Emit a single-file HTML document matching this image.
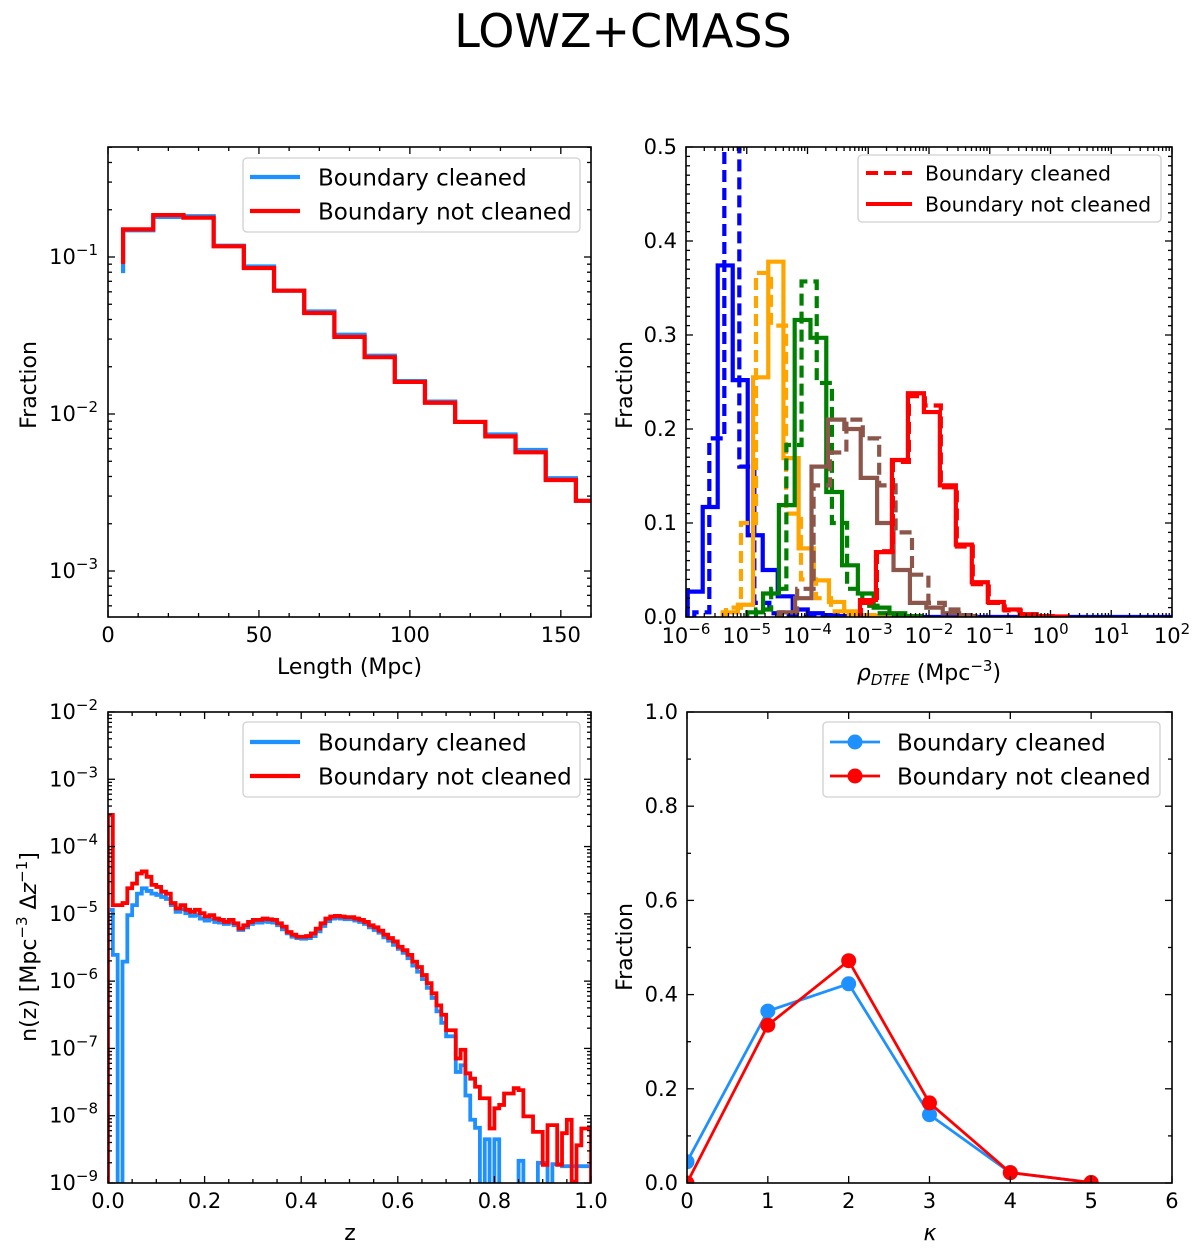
<!DOCTYPE html>
<html><head><meta charset="utf-8"><style>
html,body{margin:0;padding:0;background:#fff;}
svg{display:block;font-family:"DejaVu Sans","Liberation Sans",sans-serif;}
</style></head><body>
<svg id="chart" width="1200" height="1248" viewBox="0 0 1200 1248" xmlns="http://www.w3.org/2000/svg">
<rect width="1200" height="1248" fill="#fff"/>
<text x="623" y="47" font-size="46" text-anchor="middle">LOWZ+CMASS</text>
</svg>
<script>
// ---------- Panel 1: length histogram ----------
const lengthLeftEdges = [5,15,25,35,45,55,65,75,85,95,105,115,125,135,145,155];
const lengthBinWidth = 10;
const lengthBlue = [0.148,0.18,0.182,0.118,0.087,0.061,0.045,0.032,0.0235,0.0162,0.012,0.0089,0.0074,0.0059,0.0039,0.0028];
const lengthRed  = [0.15,0.185,0.178,0.117,0.085,0.061,0.044,0.031,0.023,0.016,0.0118,0.0089,0.0072,0.0057,0.0038,0.0028];
const lengthStartBlue = 0.079;
const lengthStartRed = 0.09;
const logTickLabelsP1 = ["-1","-2","-3"];

// ---------- Panel 2: density histograms ----------
const rhoSeriesNames = ["blue-cleaned","blue-not-cleaned","orange-cleaned","orange-not-cleaned","green-cleaned","green-not-cleaned","brown-cleaned","brown-not-cleaned","red-cleaned","red-not-cleaned"];
const rhoColors = ["blue","blue","orange","orange","green","green","#8c564b","#8c564b","red","red"];
const rhoDashed = [true,false,true,false,true,false,true,false,true,false];
const rhoLo = [-5.863,-5.972,-5.342,-5.396,-4.848,-4.991,-4.44,-4.474,-3.12,-3.136];
const rhoBw = [0.247,0.247,0.247,0.25,0.25,0.26,0.27,0.27,0.263,0.263];
const rhoBlueDashed = [0.005,0.19,0.62,0.16,0.015,0.004,0.001,0];
const rhoBlueSolid = [0.027,0.117,0.374,0.252,0.087,0.05,0.022,0.008,0.004,0.002,0.001,0.0005,0,0,0,0,0,0,0,0,0,0,0,0,0,0,0,0,0,0,0,0,0];
const rhoOrangeDashed = [0.01,0.1,0.366,0.31,0.11,0.04,0.02,0.006,0.002,0.001];
const rhoOrangeSolid = [0.005,0.013,0.255,0.378,0.169,0.073,0.039,0.016,0.006,0.002,0.001];
const rhoGreenDashed = [0.008,0.03,0.183,0.357,0.249,0.1,0.03,0.012,0.004,0.001];
const rhoGreenSolid = [0.005,0.025,0.119,0.316,0.297,0.133,0.055,0.025,0.01,0.004,0.001];
const rhoBrownDashed = [0.005,0.03,0.14,0.175,0.21,0.19,0.14,0.09,0.045,0.015,0.008,0.002];
const rhoBrownSolid = [0.005,0.02,0.16,0.21,0.2,0.148,0.1,0.05,0.015,0.01,0.004,0.001];
const rhoRedDashed = [0.015,0.07,0.165,0.235,0.225,0.138,0.075,0.035,0.015,0.007,0.003,0.001];
const rhoRedSolid = [0.018,0.069,0.167,0.238,0.218,0.14,0.077,0.037,0.016,0.008,0.003,0.001,0.0005];
const rhoValues = [rhoBlueDashed,rhoBlueSolid,rhoOrangeDashed,rhoOrangeSolid,rhoGreenDashed,rhoGreenSolid,rhoBrownDashed,rhoBrownSolid,rhoRedDashed,rhoRedSolid];
const rhoTickExps = ["-6","-5","-4","-3","-2","-1","0","1","2"];
const fracTicks = [0,0.1,0.2,0.3,0.4,0.5];

// ---------- Panel 3: n(z) (log10 values, bins of 0.01) ----------
const zBinWidth = 0.01;
const nzRedLog = [-3.53,-4.87,-4.87,-4.84,-4.62,-4.55,-4.40,-4.37,-4.45,-4.57,-4.60,-4.67,-4.70,-4.84,-4.92,-4.87,-4.94,-4.97,-4.94,-4.99,-5.04,-5.02,-5.07,-5.09,-5.12,-5.09,-5.14,-5.22,-5.17,-5.12,-5.09,-5.09,-5.07,-5.08,-5.09,-5.14,-5.19,-5.27,-5.31,-5.34,-5.34,-5.33,-5.29,-5.22,-5.14,-5.07,-5.04,-5.03,-5.04,-5.05,-5.05,-5.07,-5.09,-5.12,-5.17,-5.20,-5.25,-5.31,-5.36,-5.41,-5.49,-5.54,-5.61,-5.71,-5.79,-5.91,-6.03,-6.18,-6.36,-6.50,-6.73,-6.73,-7.15,-7.02,-7.37,-7.45,-7.57,-7.74,-7.74,-8.19,-7.89,-7.84,-7.67,-7.67,-7.59,-7.62,-8.01,-8.01,-8.24,-8.24,-8.73,-8.14,-8.14,-8.73,-8.26,-8.06,-8.98,-8.44,-8.19,-8.19];
const nzBlueLog = [-4.94,-5.61,-10,-5.71,-5.02,-4.87,-4.70,-4.62,-4.66,-4.70,-4.72,-4.75,-4.78,-4.87,-4.97,-4.93,-4.99,-5.03,-5.02,-5.07,-5.10,-5.08,-5.12,-5.13,-5.15,-5.13,-5.17,-5.24,-5.20,-5.15,-5.13,-5.13,-5.11,-5.12,-5.13,-5.17,-5.23,-5.29,-5.34,-5.36,-5.37,-5.36,-5.33,-5.26,-5.18,-5.11,-5.07,-5.06,-5.07,-5.08,-5.08,-5.10,-5.12,-5.15,-5.20,-5.24,-5.28,-5.35,-5.40,-5.46,-5.52,-5.58,-5.66,-5.77,-5.86,-5.97,-6.10,-6.25,-6.45,-6.62,-6.82,-6.82,-7.35,-7.25,-7.70,-8.06,-8.18,-10,-8.35,-10,-8.35,-10,-10,-10,-10,-8.67,-10,-10,-10,-8.70,-8.70,-10,-8.72,-8.72,-8.75,-8.75,-8.75,-8.75,-8.75,-8.75];
const nzTickExps = ["-2","-3","-4","-5","-6","-7","-8","-9"];
const zTicks = [0,0.2,0.4,0.6,0.8,1.0];

// ---------- Panel 4: kappa ----------
const kappaCats = [0,1,2,3,4,5];
const kappaBlue = [0.045,0.365,0.423,0.145,0.022,0.001];
const kappaRed = [0.0,0.335,0.472,0.17,0.022,0.001];
const kappaYTicks = [0,0.2,0.4,0.6,0.8,1.0];

// ---------- helpers ----------
const NS = "http://www.w3.org/2000/svg";
const svg = document.getElementById('chart');
const TF = 21;
function mk(tag, parent){ const e=document.createElementNS(NS,tag); (parent||svg).appendChild(e); return e; }
function line(p,x1,y1,x2,y2,col,w){ const e=mk('line',p); e.setAttribute('x1',x1);e.setAttribute('y1',y1);e.setAttribute('x2',x2);e.setAttribute('y2',y2);e.setAttribute('stroke',col||'#000');e.setAttribute('stroke-width',w||1.3); return e; }
function txt(p,x,y,s,anchor,size){ const e=mk('text',p); e.setAttribute('x',x);e.setAttribute('y',y);e.setAttribute('font-size',size||TF);e.setAttribute('text-anchor',anchor||'middle'); e.textContent=s; return e; }
function powTxt(p,x,y,exp,anchor){ const e=mk('text',p); e.setAttribute('x',x);e.setAttribute('y',y);e.setAttribute('font-size',TF);e.setAttribute('text-anchor',anchor||'middle');
  const a=document.createElementNS(NS,'tspan'); a.textContent='10'; e.appendChild(a);
  const b=document.createElementNS(NS,'tspan'); b.setAttribute('dy',-9); b.setAttribute('font-size',15); b.textContent=exp.replace('-','\u2212'); e.appendChild(b); return e; }
function xtick(p,P,x,len){ line(p,x,P.b,x,P.b-len); line(p,x,P.t,x,P.t+len); }
function ytick(p,P,y,len){ line(p,P.l,y,P.l+len,y); line(p,P.r,y,P.r-len,y); }
function frame(p,P){ const r=mk('rect',p); r.setAttribute('x',P.l);r.setAttribute('y',P.t);r.setAttribute('width',P.r-P.l);r.setAttribute('height',P.b-P.t);r.setAttribute('fill','none');r.setAttribute('stroke','#000');r.setAttribute('stroke-width',1.6);   }
let clipN=0;
function clip(P){ const d=mk('clipPath'); const id='c'+(clipN++); d.setAttribute('id',id); const r=mk('rect',d); r.setAttribute('x',P.l);r.setAttribute('y',P.t);r.setAttribute('width',P.r-P.l);r.setAttribute('height',P.b-P.t); return 'url(#'+id+')'; }
function stepPath(p,edges,vals,xf,yf,base,col,w,dash,startY){
  let d='M'+xf(edges[0])+','+(startY!==undefined?startY:base);
  for(let i=0;i<vals.length;i++){ const y=yf(vals[i]); d+=' L'+xf(edges[i])+','+y+' L'+xf(edges[i+1])+','+y; }
  d+=' L'+xf(edges[vals.length])+','+base;
  const e=mk('path',p); e.setAttribute('d',d); e.setAttribute('fill','none'); e.setAttribute('stroke',col); e.setAttribute('stroke-width',w); e.setAttribute('stroke-linejoin','miter');
  if(dash) e.setAttribute('stroke-dasharray',dash); return e;
}
function legend(p,x,y,w,h,rows,tx,size,lx1,lx2,rowY){
  const g=mk('g',p);  
  const r=mk('rect',g); r.setAttribute('x',x);r.setAttribute('y',y);r.setAttribute('width',w);r.setAttribute('height',h);r.setAttribute('rx',4);r.setAttribute('fill','#fff');r.setAttribute('fill-opacity',0.85);r.setAttribute('stroke','#d0d0d0');r.setAttribute('stroke-width',1.3);
  rows.forEach((rw,i)=>{ const ee=mk('g',g);  
    const l=line(ee,lx1,rowY[i],lx2,rowY[i],rw.c,rw.w); if(rw.dash) l.setAttribute('stroke-dasharray',rw.dash);
    if(rw.dot){ const c=mk('circle',ee); c.setAttribute('cx',(lx1+lx2)/2);c.setAttribute('cy',rowY[i]);c.setAttribute('r',7.5);c.setAttribute('fill',rw.c); }
    txt(ee,tx,rowY[i]+size*0.36,rw.t,'start',size); });
}
function yLabel(p,x,y,s,name){ const e=txt(p,x,y,s,'middle',22); e.setAttribute('transform','rotate(-90 '+x+' '+y+')');   return e; }

// ================= Panel 1 =================
(function(){
  const P={l:108,t:147,r:591,b:617};
  const g=mk('g');  
  const xf=v=>P.l+(v/160)*(P.r-P.l), yf=v=>257-(Math.log10(v)+1)*157;
  const cp=clip(P); const sg=mk('g',g); sg.setAttribute('clip-path',cp);
  const edges=lengthLeftEdges.concat([lengthLeftEdges[lengthLeftEdges.length-1]+lengthBinWidth]);
  const b=stepPath(sg,edges,lengthBlue,xf,yf,P.b+5,'#1e90ff',4.2,null,yf(lengthStartBlue));  
  const r=stepPath(sg,edges,lengthRed,xf,yf,P.b+5,'red',4.2,null,yf(lengthStartRed));  
  frame(g,P);
  for(let v=0;v<=160;v+=10){ xtick(g,P,xf(v), v%50===0?7:4); }
  [0,50,100,150].forEach(v=>{ const t=txt(g,xf(v),642,String(v));   });
  for(let e=-4;e<=0;e++){ for(let m=1;m<10;m++){ const y=yf(m*Math.pow(10,e)); if(y>P.t&&y<P.b) ytick(g,P,y,m===1?7:4); } }
  logTickLabelsP1.forEach(s=>{ const t=powTxt(g,98,yf(Math.pow(10,+s))+7,s,'end');   });
  const xl=txt(g,(P.l+P.r)/2,674,'Length (Mpc)','middle',22);  
  yLabel(g,36,385,'Fraction','y-axis-title');
  legend(g,243,158,337,74,[{c:'#1e90ff',w:4.2,t:'Boundary cleaned'},{c:'red',w:4.2,t:'Boundary not cleaned'}],318,23,250,300,[177,211]);
})();

// ================= Panel 2 =================
(function(){
  const P={l:686,t:147,r:1172,b:617};
  const g=mk('g');  
  const xf=lg=>P.l+(lg+6)*60.75, yf=v=>P.b-v*940;
  const cp=clip(P); const sg=mk('g',g); sg.setAttribute('clip-path',cp);
  rhoValues.forEach((vals,i)=>{
    const edges=[]; for(let k=0;k<=vals.length;k++) edges.push(rhoLo[i]+k*rhoBw[i]);
    const pth=stepPath(sg,edges,vals,xf,yf,P.b+3,rhoColors[i],4.2,rhoDashed[i]?'12,6':null);
     
  });
  frame(g,P);
  for(let e=-6;e<=2;e++){ for(let m=1;m<10;m++){ const x=xf(e+Math.log10(m)); if(x>=P.l&&x<=P.r) xtick(g,P,x,m===1?7:4); } }
  rhoTickExps.forEach(s=>{ const t=powTxt(g,xf(+s),643,s);   });
  for(let k=0;k<=50;k++){ ytick(g,P,yf(k/100),k%10===0?7:4); }
  fracTicks.forEach(v=>{ const t=txt(g,677,yf(v)+7,v.toFixed(1),'end');   });
  const xl=mk('text',g); xl.setAttribute('x',929);xl.setAttribute('y',680);xl.setAttribute('font-size',22);xl.setAttribute('text-anchor','middle');
   
  xl.innerHTML='<tspan font-style="italic">ρ</tspan><tspan font-style="italic" font-size="15" dy="5">DTFE</tspan><tspan dy="-5"> (Mpc</tspan><tspan font-size="15" dy="-9">−3</tspan><tspan dy="9">)</tspan>';
  yLabel(g,632,385,'Fraction','y-axis-title');
  legend(g,858,155,303,67,[{c:'red',w:4,t:'Boundary cleaned',dash:'12,6'},{c:'red',w:4,t:'Boundary not cleaned'}],925,20.5,866,912,[173,204]);
})();

// ================= Panel 3 =================
(function(){
  const P={l:108,t:712,r:591,b:1183};
  const g=mk('g');  
  const xf=z=>P.l+z*(P.r-P.l), yf=lg=>P.b-(lg+9)*67.29;
  const cp=clip(P); const sg=mk('g',g); sg.setAttribute('clip-path',cp);
  const edges=[]; for(let k=0;k<=nzRedLog.length;k++) edges.push(k*zBinWidth);
  const b=stepPath(sg,edges,nzBlueLog,xf,yf,P.b+10,'#1e90ff',3.8);  
  const r=stepPath(sg,edges,nzRedLog,xf,yf,P.b+10,'red',3.8);  
  frame(g,P);
  for(let k=0;k<=20;k++){ xtick(g,P,xf(k*0.05),k%4===0?7:4); }
  zTicks.forEach(v=>{ const t=txt(g,xf(v),1208,v.toFixed(1));   });
  for(let e=-9;e<=-3;e++){ for(let m=1;m<10;m++){ const y=yf(e+Math.log10(m)); if(y>=P.t&&y<=P.b) ytick(g,P,y,m===1?7:4); } }
  ytick(g,P,yf(-2),7);
  nzTickExps.forEach(s=>{ const t=powTxt(g,98,yf(+s)+7,s,'end');   });
  const xl=txt(g,350,1240,'z','middle',22);  
  const yl=mk('text',g); yl.setAttribute('x',36);yl.setAttribute('y',947);yl.setAttribute('font-size',22);yl.setAttribute('text-anchor','middle');yl.setAttribute('transform','rotate(-90 36 947)');
   
  yl.innerHTML='n(z) [Mpc<tspan font-size="15" dy="-9">−3</tspan><tspan dy="9"> Δ</tspan><tspan font-style="italic">z</tspan><tspan font-size="15" dy="-9">−1</tspan><tspan dy="9">]</tspan>';
  legend(g,243,722,337,75,[{c:'#1e90ff',w:4.2,t:'Boundary cleaned'},{c:'red',w:4.2,t:'Boundary not cleaned'}],318,23,250,300,[742,776]);
})();

// ================= Panel 4 =================
(function(){
  const P={l:687,t:712,r:1172,b:1183};
  const g=mk('g');  
  const xf=k=>P.l+k*80.83, yf=f=>P.b-f*471;
  const cp=clip(P); const sg=mk('g',g); sg.setAttribute('clip-path',cp);
  [[kappaBlue,'#1e90ff','kappa-boundary-cleaned'],[kappaRed,'red','kappa-boundary-not-cleaned']].forEach(s=>{
    const pl=mk('polyline',sg); pl.setAttribute('points',kappaCats.map((k,i)=>xf(k)+','+yf(s[0][i])).join(' '));
    pl.setAttribute('fill','none'); pl.setAttribute('stroke',s[1]); pl.setAttribute('stroke-width',2.8);
     
    kappaCats.forEach((k,i)=>{ const c=mk('circle',sg); c.setAttribute('cx',xf(k)); c.setAttribute('cy',yf(s[0][i])); c.setAttribute('r',7.5); c.setAttribute('fill',s[1]);
        });
  });
  frame(g,P);
  for(let k=0;k<=6;k++){ xtick(g,P,xf(k),7); const t=txt(g,xf(k),1208,String(k));   }
  for(let k=0;k<=10;k++){ ytick(g,P,yf(k/10),k%2===0?7:4); }
  kappaYTicks.forEach(v=>{ const t=txt(g,678,yf(v)+7,v.toFixed(1),'end');   });
  const xl=txt(g,930,1240,'κ','middle',22); xl.setAttribute('font-style','italic');  
  yLabel(g,632,947,'Fraction','y-axis-title');
  legend(g,823,722,337,75,[{c:'#1e90ff',w:2.8,t:'Boundary cleaned',dot:true},{c:'red',w:2.8,t:'Boundary not cleaned',dot:true}],897,23,830,880,[742,776]);
})();
</script>
</body></html>
